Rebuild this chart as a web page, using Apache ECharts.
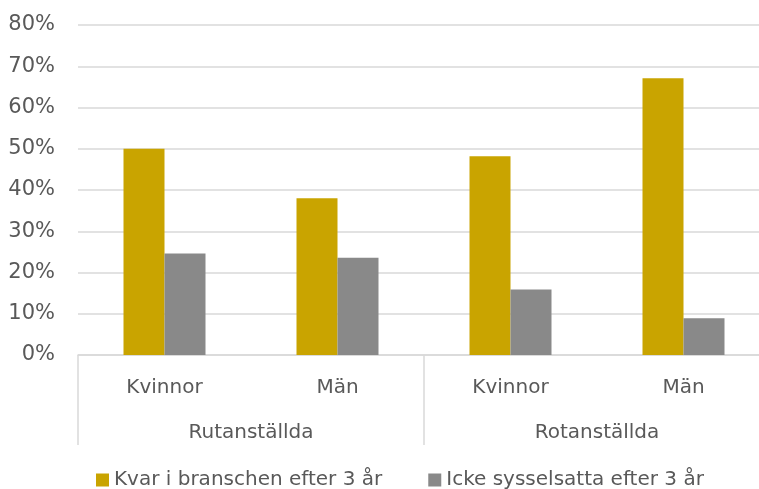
<!DOCTYPE html>
<html><head><meta charset="utf-8">
<script src="https://cdn.jsdelivr.net/npm/echarts@6/dist/echarts.min.js"></script>
<style>html,body{margin:0;padding:0;background:#fff}#c{width:759px;height:489px}</style>
</head><body><div id="c"></div>
<script>
const categories = ['Kvinnor', 'Män', 'Kvinnor', 'Män'];
const groups = ['Rutanställda', 'Rotanställda'];
const seriesNames = ['Kvar i branschen efter 3 år', 'Icke sysselsatta efter 3 år'];
const kvar = [50, 38, 48.2, 67.1];
const icke = [24.6, 23.6, 15.9, 8.9];

const font = 'Tahoma, "DejaVu Sans", sans-serif';
const txt = '#595959';
const chart = echarts.init(document.getElementById('c'));
chart.setOption({
  animation: false,
  textStyle: {fontFamily: font},
  grid: {left: 78, width: 692, top: 25, height: 330, containLabel: false, outerBoundsMode: 'none'},
  legend: {
    left: 96, top: 470, padding: 0, itemWidth: 13, itemHeight: 13, itemGap: 46,
    icon: 'rect',
    textStyle: {fontFamily: font, fontSize: 20, color: txt},
    data: seriesNames
  },
  xAxis: [
    {type: 'category', data: categories, position: 'bottom',
     axisLine: {lineStyle: {color: '#d9d9d9', width: 1.5}},
     axisTick: {show: false},
     axisLabel: {fontFamily: font, fontSize: 20, color: txt, margin: 23}},
    {type: 'category', data: groups, position: 'bottom',
     axisLine: {show: false},
     axisTick: {show: true, length: 90, lineStyle: {color: '#d9d9d9', width: 1.5}},
     axisLabel: {fontFamily: font, fontSize: 20, color: txt, margin: 68}}
  ],
  yAxis: {
    type: 'value', min: 0, max: 80, interval: 10,
    axisLine: {show: false}, axisTick: {show: false},
    splitLine: {lineStyle: {color: '#d9d9d9', width: 1.5}},
    axisLabel: {formatter: '{value}%', fontFamily: font, fontSize: 21, color: txt, margin: 23}
  },
  series: [
    {name: seriesNames[0], type: 'bar', data: kvar, barWidth: 41, barGap: '0%', itemStyle: {color: '#C9A400'}},
    {name: seriesNames[1], type: 'bar', data: icke, barWidth: 41, barGap: '0%', itemStyle: {color: '#898989'}}
  ]
});
</script></body></html>
